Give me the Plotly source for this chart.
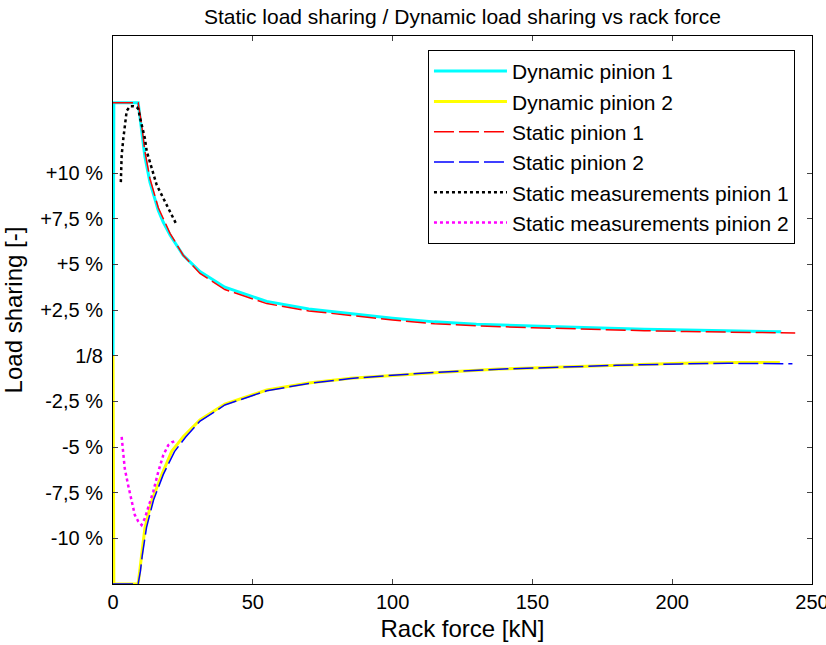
import plotly.graph_objects as go

# Data: rack force [kN] and load-sharing deviation from 1/8 [%]
x_dyn1 = [0, 0.3, 9.0, 10.2, 11.4, 13.2, 16.2, 18, 20.4, 25.1, 31.1, 40, 55, 70, 85, 100, 115, 130, 150, 170, 190, 205, 220, 239]
y_dyn1 = [0, 13.85, 13.85, 12.4, 10.9, 9.5, 7.95, 7.3, 6.6, 5.5, 4.6, 3.75, 2.97, 2.55, 2.3, 2.05, 1.85, 1.72, 1.62, 1.52, 1.45, 1.4, 1.36, 1.31]

x_dyn2 = [0, 0.3, 9.0, 10.3, 11.4, 13.8, 17.4, 21, 25.2, 31.1, 40, 55, 70, 85, 100, 115, 138, 160, 180, 203, 220, 238.5]
y_dyn2 = [0, -12.5, -12.5, -10.7, -9.45, -7.97, -6.53, -5.24, -4.42, -3.52, -2.65, -1.88, -1.5, -1.24, -1.07, -0.93, -0.73, -0.62, -0.52, -0.42, -0.38, -0.37]

x_stat1 = [0, 9.0, 10.2, 11.4, 13.2, 16.2, 20.4, 25.1, 31.1, 40, 55, 70, 85, 100, 115, 130, 150, 170, 190, 205, 220, 244]
y_stat1 = [13.85, 13.85, 12.7, 11.2, 9.7, 8.1, 6.7, 5.5, 4.5, 3.62, 2.85, 2.45, 2.2, 1.95, 1.75, 1.63, 1.53, 1.43, 1.37, 1.32, 1.28, 1.24]

x_stat2 = [0, 9.0, 9.8, 10.5, 12, 14.5, 18, 22, 26, 31, 40, 55, 70, 85, 100, 115, 138, 160, 180, 203, 220, 243]
y_stat2 = [-12.5, -12.5, -11.8, -10.9, -9.4, -7.9, -6.5, -5.25, -4.45, -3.6, -2.7, -1.92, -1.52, -1.25, -1.07, -0.92, -0.74, -0.62, -0.53, -0.45, -0.42, -0.44]

x_meas1 = [2.8, 3.1, 3.7, 4.3, 4.9, 6.1, 7.3, 8.5, 9.05, 9.7, 11.4, 12.05, 13.8, 15.6, 17.4, 19.2, 21, 22.8]
y_meas1 = [9.5, 10.97, 11.9, 12.8, 13.4, 13.65, 13.65, 13.6, 13.5, 13.0, 11.9, 11.2, 10.3, 9.35, 8.8, 8.24, 7.7, 7.15]

x_meas2 = [3.1, 3.7, 4.2, 5.4, 6.6, 7.8, 9.05, 9.7, 10.2, 11.4, 12.6, 14.4, 16.2, 18, 19.8, 21, 22.5]
y_meas2 = [-4.45, -5.25, -6.17, -7.08, -7.99, -8.72, -9.08, -9.2, -9.27, -8.9, -8.35, -7.44, -6.35, -5.44, -4.89, -4.75, -4.65]

y_tickvals = [-10, -7.5, -5, -2.5, 0, 2.5, 5, 7.5, 10]
y_ticktext = ["-10 %", "-7,5 %", "-5 %", "-2,5 %", "1/8", "+2,5 %", "+5 %", "+7,5 %", "+10 %"]
x_tickvals = [0, 50, 100, 150, 200, 250]

FONT = "Liberation Sans, Arial, sans-serif"
FS = 20

fig = go.Figure()
fig.add_trace(go.Scatter(x=x_dyn1, y=y_dyn1, mode="lines", name="Dynamic pinion 1",
                         line=dict(color="#00FFFF", width=3)))
fig.add_trace(go.Scatter(x=x_dyn2, y=y_dyn2, mode="lines", name="Dynamic pinion 2",
                         line=dict(color="#FFFF00", width=3)))
fig.add_trace(go.Scatter(x=x_stat1, y=y_stat1, mode="lines", name="Static pinion 1",
                         line=dict(color="#FF0000", width=1.5, dash="20px,5px")))
fig.add_trace(go.Scatter(x=x_stat2, y=y_stat2, mode="lines", name="Static pinion 2",
                         line=dict(color="#0000FF", width=1.5, dash="20px,5px")))
fig.add_trace(go.Scatter(x=x_meas1, y=y_meas1, mode="lines", name="Static measurements pinion 1",
                         line=dict(color="#000000", width=2.5, dash="dot")))
fig.add_trace(go.Scatter(x=x_meas2, y=y_meas2, mode="lines", name="Static measurements pinion 2",
                         line=dict(color="#FF00FF", width=2.5, dash="dot")))

fig.update_layout(
    width=826, height=645,
    margin=dict(l=113, r=14, t=36, b=61, autoexpand=False),
    paper_bgcolor="white", plot_bgcolor="white",
    font=dict(family=FONT, size=FS, color="#000000"),
    title=dict(text="Static load sharing / Dynamic load sharing vs rack force",
               x=0.5, xref="paper", xanchor="center", y=0.974, yanchor="middle",
               font=dict(family=FONT, size=21, color="#000000")),
    legend=dict(x=0.4506, y=0.9745, xanchor="left", yanchor="top",
                bgcolor="white", bordercolor="#000000", borderwidth=1,
                font=dict(family=FONT, size=21, color="#000000"),
                itemwidth=73),
    showlegend=True,
)
fig.update_xaxes(range=[0, 250], tickvals=x_tickvals, ticks="inside", ticklen=5,
                 showline=True, linecolor="#000000", linewidth=1, mirror="ticks",
                 showgrid=False, zeroline=False, ticklabeloverflow="allow",
                 automargin=False,
                 title=dict(text="Rack force [kN]", standoff=8),
                 tickfont=dict(size=FS))
fig.update_yaxes(range=[-12.5, 17.5], tickvals=y_tickvals, ticktext=y_ticktext,
                 ticks="inside", ticklen=5, ticklabelstandoff=5,
                 showline=True, linecolor="#000000", linewidth=1, mirror="ticks",
                 showgrid=False, zeroline=False, automargin=False,
                 title=dict(text="Load sharing [-]", standoff=12),
                 tickfont=dict(size=FS))

fig.write_html("out.html")
